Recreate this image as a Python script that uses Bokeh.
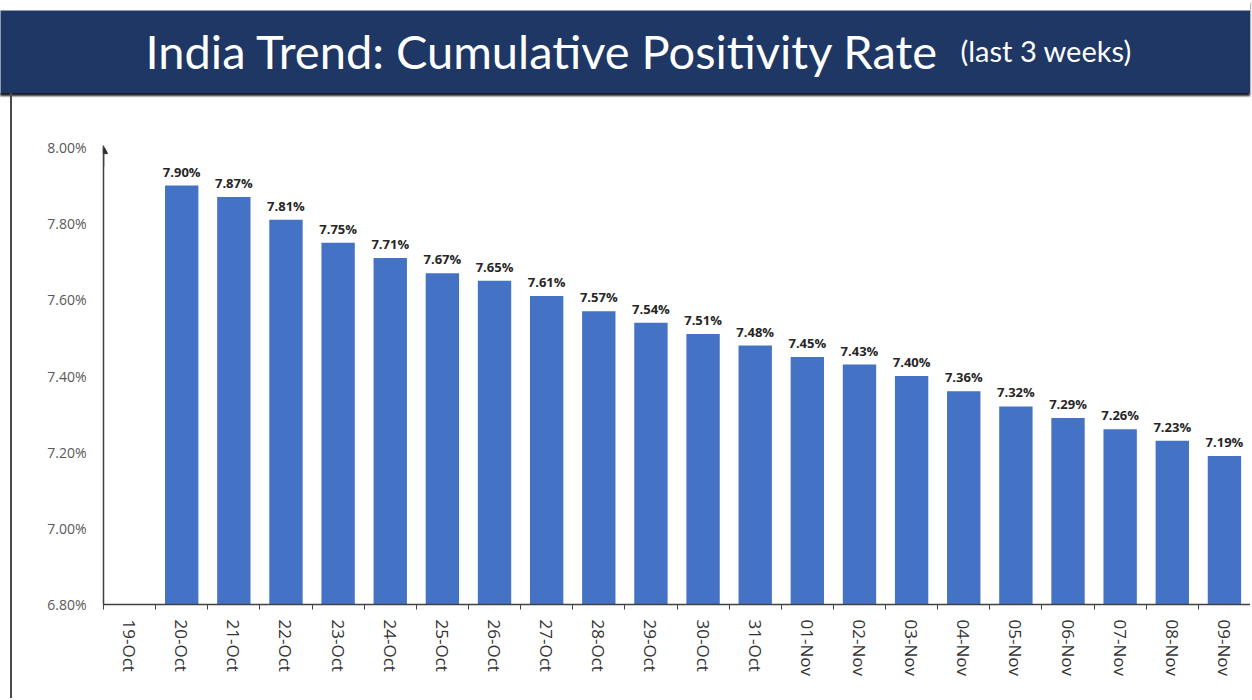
from bokeh.plotting import figure
from bokeh.models import (FactorRange, Range1d, LinearAxis, CategoricalAxis, FixedTicker,
                          PrintfTickFormatter, Arrow, NormalHead, Label, ColumnDataSource)
from bokeh.embed import file_html
from bokeh.resources import INLINE
from bokeh.core.properties import value

# ---------------- data ----------------
categories = ["19-Oct", "20-Oct", "21-Oct", "22-Oct", "23-Oct", "24-Oct", "25-Oct", "26-Oct",
              "27-Oct", "28-Oct", "29-Oct", "30-Oct", "31-Oct", "01-Nov", "02-Nov", "03-Nov",
              "04-Nov", "05-Nov", "06-Nov", "07-Nov", "08-Nov", "09-Nov"]
bar_dates = categories[1:]
rates = [7.90, 7.87, 7.81, 7.75, 7.71, 7.67, 7.65, 7.61, 7.57, 7.54, 7.51, 7.48, 7.45,
         7.43, 7.40, 7.36, 7.32, 7.29, 7.26, 7.23, 7.19]
rate_labels = ["%.2f%%" % v for v in rates]
y_ticks = [6.80, 7.00, 7.20, 7.40, 7.60, 7.80, 8.00]
title_main = "India Trend: Cumulative Positivity Rate"
title_sub = "(last 3 weeks)"

W = 1250
LEFT = 103
BH = 93
CH = 605
NAVY = "#1E3765"

# ---------------- banner ----------------
banner = figure(width=W, height=BH, x_range=Range1d(0, W), y_range=Range1d(0, BH - 10),
                toolbar_location=None, output_backend="svg", x_axis_type=None, y_axis_type=None,
                min_border_left=0, min_border_right=0, min_border_top=10, min_border_bottom=0,
                background_fill_color=NAVY, border_fill_color="white", outline_line_color=None)
banner.styles = {"box-shadow": "0 3px 2px #1b1e24"}
banner.add_layout(Label(x=145, y=43, text=title_main, text_color="white",
                        text_font="Lato", text_font_size="47px", text_baseline="alphabetic"))
banner.add_layout(Label(x=960, y=43, text=title_sub, text_color="white",
                        text_font="Lato", text_font_size="29px", text_baseline="alphabetic"))

# ---------------- chart ----------------
p = figure(width=W, height=CH, x_range=FactorRange(*categories), y_range=Range1d(6.8, 8.0),
           x_axis_type=None, toolbar_location=None, output_backend="svg",
           min_border_left=LEFT, min_border_top=54, min_border_bottom=94, min_border_right=0,
           outline_line_color=None, background_fill_color="white")
p.border_fill_alpha = 0
p.styles = {"background": "linear-gradient(to right, transparent 10px, #4a4a4a 10px, "
                          "#4a4a4a 12px, transparent 12px)"}
p.ygrid.visible = False

src = ColumnDataSource(dict(date=bar_dates, rate=rates, label=rate_labels))
p.vbar(x="date", top="rate", bottom=6.8, width=0.64, source=src,
       fill_color="#4472C4", line_color=None)
p.text(x="date", y="rate", text="label", source=src, text_align="center",
       text_baseline="alphabetic", y_offset=-14, text_font=value("Open Sans"),
       text_font_style="bold", text_font_size="13px", text_color="#262626")

yax = p.yaxis[0]
yax.ticker = FixedTicker(ticks=y_ticks)
yax.formatter = PrintfTickFormatter(format="%.2f%%")
yax.major_tick_line_color = None
yax.major_tick_out = 0
yax.major_tick_in = 0
yax.minor_tick_line_color = None
yax.axis_line_color = "#404040"
yax.axis_line_width = 1.5
yax.major_label_text_color = "#595959"
yax.major_label_text_font = "Open Sans"
yax.major_label_text_font_size = "14px"
yax.major_label_standoff = 17

p.add_layout(Arrow(end=NormalHead(size=8, fill_color="#303030", line_color="#303030"),
                   x_start=0, y_start=7.95, x_end=0, y_end=8.005,
                   line_color="#404040", line_width=1.5))

# category boundary ticks (synthetic coordinates 0..N on the factor range)
edge_ticks = list(range(len(categories) + 1))
tick_axis = LinearAxis(ticker=FixedTicker(ticks=edge_ticks),
                       major_tick_in=0, major_tick_out=5, major_label_text_font_size="1px",
                       major_label_standoff=0, major_label_overrides={t: "" for t in edge_ticks},
                       axis_line_color="#404040", axis_line_width=1.5,
                       major_tick_line_color="#404040", minor_tick_line_color=None)
p.add_layout(tick_axis, "below")

cat_axis = CategoricalAxis(axis_line_color=None, major_tick_line_color=None,
                           minor_tick_line_color=None, major_label_orientation="vertical",
                           major_label_text_font="Open Sans", major_label_text_font_size="17px",
                           major_label_text_color="#333333", major_label_standoff=4)
p.add_layout(cat_axis, "below")

open("out.html", "w").write(file_html([banner, p], INLINE))
